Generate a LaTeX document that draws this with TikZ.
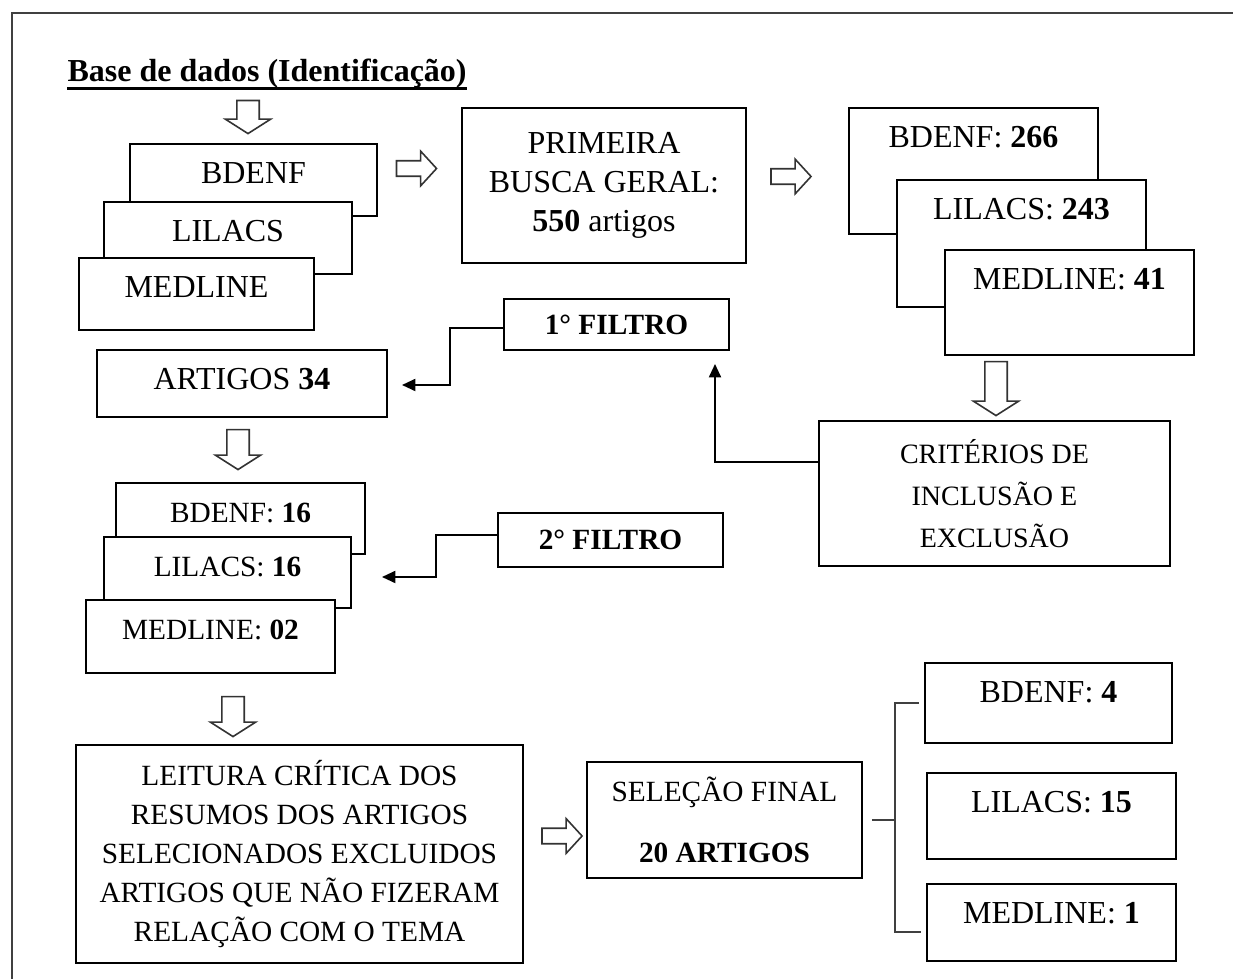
\documentclass[tikz,border=0pt]{standalone}
\usepackage{fontspec}
\setmainfont{Liberation Serif}
\usetikzlibrary{shapes.arrows,arrows.meta}

\newcommand{\sizetw}{\fontsize{12}{14.6}\selectfont}
\newcommand{\sizeel}{\fontsize{11}{14.6}\selectfont}
\newcommand{\sizete}{\fontsize{10.5}{15.75}\selectfont}

\tikzset{
  db/.style 2 args={draw, fill=white, line width=.7pt, inner sep=0pt, anchor=north,
    minimum width=#1, text height=15pt, text depth=#2},
  tbox/.style={draw, fill=white, line width=.7pt, inner sep=0pt, align=center},
  rarrow/.style={single arrow, draw=black!80, fill=white, line width=.6pt,
    inner xsep=0pt, inner ysep=2.6pt,
    minimum height=15pt, minimum width=12.4pt, single arrow head extend=3.6pt,
    single arrow tip angle=95},
  darrow/.style={single arrow, draw=black!80, fill=white, line width=.6pt,
    inner xsep=0pt, inner ysep=3.9pt,
    rotate=-90, minimum height=15pt, minimum width=16.5pt, single arrow head extend=4.3pt,
    single arrow tip angle=115},
  conn/.style={line width=.7pt},
  filtroarrow/.style={-{Triangle[length=5pt,width=4.5pt]}}
}

\begin{document}
\begin{tikzpicture}[x=0.375pt, y=-0.375pt]
\useasboundingbox (0,0) rectangle (1233,979);
\draw[black!75, line width=1.1pt] (12,979) -- (12,13) -- (1233,13);

\node[anchor=base west, inner sep=0pt, font=\sizetw\bfseries] (title) at (67,82)
    {Base de dados (Identificação)};
\draw[line width=1.1pt] ([yshift=-2.3pt]title.base west) -- ([yshift=-2.3pt]title.base east);
\node[darrow, minimum height=12.4pt, minimum width=16.1pt] (a1) at (248,113.5) {};

\node[db={92.6pt}{12pt}, font=\sizetw] (bdA) at (253.5,143) {BDENF};
\node[db={93pt}{12pt}, font=\sizetw] (liA) at (228,201) {LILACS};
\node[db={88.1pt}{12pt}, font=\sizetw] (meA) at (196.5,257) {MEDLINE};

\node[rarrow] (a2) at (413,168.5) {};
\node[tbox, font=\sizetw, minimum width=106.5pt, minimum height=58.1pt] (prim)
    at (604,185.5) {PRIMEIRA\\BUSCA GERAL:\\\textbf{550} artigos};
\node[rarrow] (a3) at (787.5,176.5) {};

\node[db={93.4pt}{32.25pt}, font=\sizetw] (bdB) at (973.5,107) {BDENF: \textbf{266}};
\node[db={93.4pt}{32.6pt}, font=\sizetw] (liB) at (1021.5,179) {LILACS: \textbf{243}};
\node[db={93.4pt}{24.4pt}, font=\sizetw] (meB) at (1069.5,249) {MEDLINE: \textbf{41}};

\node[darrow, minimum height=20.25pt, minimum width=16.9pt] (a4) at (996,385) {};
\node[tbox, font=\sizete, minimum width=131.6pt, minimum height=54.4pt] (crit)
    at (994.5,493.5) {CRITÉRIOS DE\\INCLUSÃO E\\EXCLUSÃO};

\node[tbox, font=\sizeel\bfseries, minimum width=84.4pt, minimum height=19.1pt] (f1)
    at (616.5,324.5) {1° FILTRO};
\coordinate (t1) at (715,364);
\draw[conn, filtroarrow] ([yshift=11.8pt]crit.west) -| (t1);

\node[db={108.75pt}{10.1pt}, font=\sizetw] (art) at (242,349) {ARTIGOS \textbf{34}};
\coordinate (t2) at (402,385);
\draw[conn, filtroarrow] ([yshift=-1.3pt]f1.west) -- ++(-53,0) |- (t2);

\node[darrow] (a5) at (238,446) {};

\node[db={93.4pt}{11.6pt}, font=\sizeel] (bdC) at (240.5,482) {BDENF: \textbf{16}};
\node[db={92.6pt}{11.6pt}, font=\sizeel] (liC) at (227.5,536) {LILACS: \textbf{16}};
\node[db={93.4pt}{12.4pt}, font=\sizeel] (meC) at (210.5,599) {MEDLINE: \textbf{02}};

\node[tbox, font=\sizeel\bfseries, minimum width=84.4pt, minimum height=20.25pt] (f2)
    at (610.5,540) {2° FILTRO};
\coordinate (t3) at (382,577);
\draw[conn, filtroarrow] ([yshift=1.9pt]f2.west) -- ++(-61,0) |- (t3);

\node[darrow] (a6) at (233,713) {};
\node[tbox, font=\sizeel, minimum width=167.6pt, minimum height=81.75pt] (leit)
    at (299.5,854) {LEITURA CRÍTICA DOS\\RESUMOS DOS ARTIGOS\\SELECIONADOS EXCLUIDOS\\
    ARTIGOS QUE NÃO FIZERAM\\RELAÇÃO COM O TEMA};

\node[rarrow] (a7) at (558.5,836) {};
\node[tbox, font=\sizeel, minimum width=103.1pt, minimum height=43.5pt] (sel)
    at (724.5,820) {SELEÇÃO FINAL\\[8pt]\textbf{20 ARTIGOS}};

\node[db={92.6pt}{15pt}, font=\sizetw] (bdD) at (1048.5,662) {BDENF: \textbf{4}};
\node[db={93.4pt}{17.25pt}, font=\sizetw] (liD) at (1051.5,772) {LILACS: \textbf{15}};
\node[db={93.4pt}{13.9pt}, font=\sizetw] (meD) at (1051.5,883) {MEDLINE: \textbf{1}};

\coordinate (br) at (895,820);
\draw[conn, black!75] ([xshift=3.4pt]sel.east) -- (br);
\draw[conn, black!75] ([xshift=-2pt]bdD.west) -| (br)
    |- ([xshift=-2pt,yshift=-3.6pt]meD.west);
\end{tikzpicture}
\end{document}
